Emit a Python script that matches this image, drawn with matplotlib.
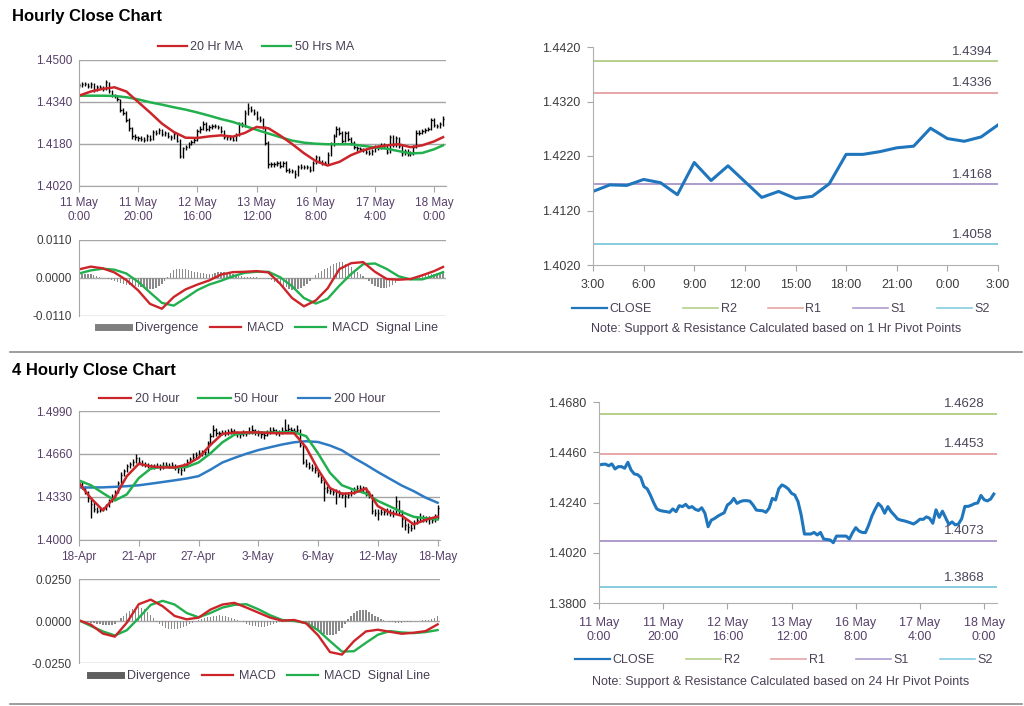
import numpy as np
import matplotlib.pyplot as plt
from matplotlib.lines import Line2D

plt.rcParams['font.family'] = ['Liberation Sans', 'DejaVu Sans']

## hourly bars, 11 May 0:00 .. 18 May 3:00
hour_labels = ['11 May\n0:00', '11 May\n20:00', '12 May\n16:00', '13 May\n12:00',
               '16 May\n8:00', '17 May\n4:00', '18 May\n0:00']
close_1h = [1.4404, 1.4407, 1.4408, 1.4401, 1.4409, 1.4387, 1.4397, 1.4397, 1.4390, 1.4416,
            1.4382, 1.4365, 1.4362, 1.4350, 1.4310, 1.4300, 1.4273, 1.4240, 1.4212, 1.4205,
            1.4202, 1.4200, 1.4197, 1.4212, 1.4200, 1.4226, 1.4222, 1.4232, 1.4217, 1.4222,
            1.4210, 1.4205, 1.4217, 1.4193, 1.4134, 1.4163, 1.4170, 1.4180, 1.4188, 1.4195,
            1.4229, 1.4239, 1.4258, 1.4236, 1.4244, 1.4248, 1.4248, 1.4246, 1.4229, 1.4207,
            1.4205, 1.4204, 1.4197, 1.4215, 1.4258, 1.4251, 1.4300, 1.4317, 1.4310, 1.4299,
            1.4280, 1.4273, 1.4244, 1.4185, 1.4102, 1.4102, 1.4102, 1.4109, 1.4098, 1.4109,
            1.4080, 1.4078, 1.4076, 1.4064, 1.4093, 1.4093, 1.4093, 1.4093, 1.4080, 1.4108,
            1.4130, 1.4115, 1.4109, 1.4108, 1.4140, 1.4180, 1.4210, 1.4236, 1.4222, 1.4193,
            1.4222, 1.4200, 1.4185, 1.4168, 1.4163, 1.4160, 1.4156, 1.4151, 1.4146,
            1.4155, 1.4167, 1.4166, 1.4177, 1.4171, 1.4149, 1.4208, 1.4175, 1.4202, 1.4173,
            1.4144, 1.4155, 1.4142, 1.4146, 1.4169, 1.4223, 1.4223, 1.4228, 1.4235, 1.4238,
            1.4271, 1.4252, 1.4247, 1.4255, 1.4277]
high_1h = [1.4414, 1.4415, 1.4418, 1.4412, 1.4416, 1.4412, 1.4405, 1.4404, 1.4402, 1.4424,
           1.4418, 1.4386, 1.4372, 1.4366, 1.4352, 1.4318, 1.4305, 1.4278, 1.4245, 1.4218,
           1.4212, 1.4210, 1.4206, 1.4218, 1.4216, 1.4232, 1.4232, 1.4240, 1.4236, 1.4230,
           1.4226, 1.4215, 1.4224, 1.4220, 1.4198, 1.4170, 1.4178, 1.4188, 1.4196, 1.4202,
           1.4236, 1.4248, 1.4266, 1.4262, 1.4252, 1.4255, 1.4256, 1.4254, 1.4250, 1.4234,
           1.4214, 1.4212, 1.4210, 1.4222, 1.4265, 1.4264, 1.4310, 1.4338, 1.4324, 1.4315,
           1.4305, 1.4288, 1.4280, 1.4250, 1.4190, 1.4112, 1.4110, 1.4116, 1.4114, 1.4116,
           1.4114, 1.4088, 1.4085, 1.4082, 1.4100, 1.4102, 1.4101, 1.4100, 1.4098, 1.4115,
           1.4138, 1.4136, 1.4120, 1.4116, 1.4148, 1.4188, 1.4220, 1.4250, 1.4244, 1.4228,
           1.4230, 1.4228, 1.4206, 1.4190, 1.4174, 1.4170, 1.4166, 1.4162, 1.4158, 1.4162,
           1.4175, 1.4176, 1.4185, 1.4184, 1.4176, 1.4216, 1.4214, 1.4210, 1.4208, 1.4180,
           1.4162, 1.4160, 1.4154, 1.4176, 1.4232, 1.4232, 1.4236, 1.4242, 1.4246, 1.4280,
           1.4278, 1.4258, 1.4262, 1.4286]
low_1h = [1.4394, 1.4397, 1.4400, 1.4393, 1.4395, 1.4380, 1.4383, 1.4390, 1.4383, 1.4386,
          1.4375, 1.4358, 1.4355, 1.4342, 1.4302, 1.4290, 1.4265, 1.4230, 1.4200, 1.4196,
          1.4190, 1.4192, 1.4188, 1.4192, 1.4193, 1.4196, 1.4214, 1.4218, 1.4210, 1.4212,
          1.4202, 1.4196, 1.4200, 1.4186, 1.4125, 1.4128, 1.4156, 1.4165, 1.4175, 1.4182,
          1.4190, 1.4222, 1.4232, 1.4228, 1.4230, 1.4238, 1.4240, 1.4238, 1.4222, 1.4200,
          1.4197, 1.4196, 1.4190, 1.4192, 1.4210, 1.4244, 1.4246, 1.4292, 1.4302, 1.4290,
          1.4272, 1.4265, 1.4236, 1.4176, 1.4090, 1.4094, 1.4094, 1.4096, 1.4090, 1.4092,
          1.4072, 1.4070, 1.4068, 1.4052, 1.4060, 1.4085, 1.4086, 1.4085, 1.4072, 1.4076,
          1.4102, 1.4108, 1.4100, 1.4100, 1.4104, 1.4135, 1.4174, 1.4205, 1.4214, 1.4185,
          1.4188, 1.4192, 1.4178, 1.4160, 1.4155, 1.4152, 1.4148, 1.4143, 1.4138, 1.4140,
          1.4150, 1.4158, 1.4160, 1.4164, 1.4141, 1.4145, 1.4168, 1.4170, 1.4165, 1.4136,
          1.4138, 1.4134, 1.4136, 1.4140, 1.4164, 1.4214, 1.4218, 1.4222, 1.4228, 1.4232,
          1.4245, 1.4240, 1.4240, 1.4250]
ma_bars_1h = list(range(0, 121, 4)) + [123]
ma20_1h = [1.4364, 1.4380, 1.4390, 1.4396, 1.4380, 1.4340, 1.4300, 1.4258, 1.4226, 1.4204,
           1.4203, 1.4209, 1.4213, 1.4208, 1.4222, 1.4245, 1.4240, 1.4212, 1.4180, 1.4145,
           1.4115, 1.4098, 1.4112, 1.4138, 1.4156, 1.4168, 1.4175, 1.4179, 1.4168, 1.4175,
           1.4190, 1.4206]
ma50_1h = [1.4364, 1.4364, 1.4364, 1.4363, 1.4358, 1.4350, 1.4339, 1.4330, 1.4320, 1.4311,
           1.4300, 1.4288, 1.4275, 1.4264, 1.4249, 1.4234, 1.4220, 1.4206, 1.4193, 1.4185,
           1.4181, 1.4179, 1.4179, 1.4179, 1.4173, 1.4167, 1.4162, 1.4153, 1.4144, 1.4146,
           1.4160, 1.4175]
macd_1h = [0.0025, 0.0033, 0.0028, 0.0016, -0.0006, -0.0036, -0.0075, -0.0089, -0.0055, -0.0033,
           -0.0019, -0.0007, 0.0010, 0.0017, 0.0018, 0.0020, 0.0016, -0.0017, -0.0058, -0.0082,
           -0.0065, -0.0030, 0.0026, 0.0043, 0.0046, 0.0018, -0.0003, -0.0005, -0.0003, 0.0008,
           0.0020, 0.0032]
signal_1h = [0.0013, 0.0022, 0.0027, 0.0024, 0.0013, -0.0011, -0.0042, -0.0072, -0.0080, -0.0058,
             -0.0035, -0.0019, -0.0008, 0.0005, 0.0015, 0.0018, 0.0018, 0.0002, -0.0024, -0.0058,
             -0.0074, -0.0060, -0.0022, 0.0012, 0.0040, 0.0042, 0.0026, 0.0005, -0.0004, -0.0004,
             0.0007, 0.0017]
div_1h = [0.0012, 0.0012, 0.0011, 0.0011, 0.0011, 0.0009, 0.0007, 0.0004, 0.0001, -0.0001,
          -0.0004, -0.0006, -0.0008, -0.0011, -0.0014, -0.0016, -0.0019, -0.0021, -0.0023, -0.0024,
          -0.0025, -0.0027, -0.0030, -0.0032, -0.0033, -0.0031, -0.0028, -0.0023, -0.0017, -0.0008,
          0.0003, 0.0015, 0.0022, 0.0025, 0.0026, 0.0025, 0.0025, 0.0022, 0.0020, 0.0018,
          0.0016, 0.0015, 0.0014, 0.0013, 0.0012, 0.0013, 0.0015, 0.0017, 0.0018, 0.0016,
          0.0014, 0.0013, 0.0012, 0.0010, 0.0007, 0.0005, 0.0003, 0.0002, 0.0002, 0.0002,
          0.0002, 0.0001, 0.0000, -0.0001, -0.0002, -0.0006, -0.0011, -0.0015, -0.0019, -0.0023,
          -0.0027, -0.0031, -0.0034, -0.0035, -0.0033, -0.0029, -0.0024, -0.0017, -0.0009, 0.0000,
          0.0009, 0.0015, 0.0021, 0.0026, 0.0030, 0.0035, 0.0040, 0.0044, 0.0047, 0.0045,
          0.0040, 0.0036, 0.0031, 0.0024, 0.0017, 0.0011, 0.0006, -0.0002, -0.0010, -0.0017,
          -0.0024, -0.0027, -0.0028, -0.0029, -0.0029, -0.0026, -0.0020, -0.0015, -0.0010, -0.0006,
          -0.0003, -0.0001, 0.0001, 0.0004, 0.0007, 0.0010, 0.0012, 0.0013, 0.0013, 0.0013,
          0.0013, 0.0014, 0.0014, 0.0015]

## last 24 hours (17 May 3:00 .. 18 May 3:00) of the same closes
day_labels = ['3:00', '6:00', '9:00', '12:00', '15:00', '18:00', '21:00', '0:00', '3:00']
close_day = close_1h[99:]
pivot_names = ['R2', 'R1', 'S1', 'S2']
pivot_1h = [1.4394, 1.4336, 1.4168, 1.4058]
pivot_24h = [1.4628, 1.4453, 1.4073, 1.3868]

## 4 hourly bars, 18 Apr .. 18 May
h4_labels = ['18-Apr', '21-Apr', '27-Apr', '3-May', '6-May', '12-May', '18-May']
close_4h = [1.4440, 1.4410, 1.4370, 1.4320, 1.4280, 1.4240, 1.4225, 1.4233, 1.4240, 1.4262,
            1.4300, 1.4330, 1.4370, 1.4440, 1.4500, 1.4530, 1.4565, 1.4580, 1.4600, 1.4628,
            1.4600, 1.4585, 1.4578, 1.4570, 1.4565, 1.4564, 1.4570, 1.4557, 1.4570, 1.4577,
            1.4570, 1.4577, 1.4560, 1.4545, 1.4540, 1.4577, 1.4600, 1.4620, 1.4640, 1.4650,
            1.4665, 1.4670, 1.4679, 1.4743, 1.4800, 1.4845, 1.4820, 1.4819, 1.4825, 1.4819,
            1.4828, 1.4837, 1.4830, 1.4819, 1.4810, 1.4825, 1.4819, 1.4830, 1.4845, 1.4830,
            1.4819, 1.4812, 1.4806, 1.4820, 1.4840, 1.4845, 1.4830, 1.4827, 1.4838, 1.4845,
            1.4855, 1.4845, 1.4838, 1.4845, 1.4730, 1.4602, 1.4580, 1.4564, 1.4550, 1.4539,
            1.4500, 1.4462, 1.4398, 1.4385, 1.4373, 1.4370, 1.4368, 1.4355, 1.4347, 1.4340,
            1.4347, 1.4365, 1.4390, 1.4398, 1.4400, 1.4398, 1.4360, 1.4347, 1.4220, 1.4210,
            1.4207, 1.4215, 1.4212, 1.4220, 1.4210, 1.4207, 1.4296, 1.4220, 1.4160, 1.4118,
            1.4100, 1.4092, 1.4131, 1.4150, 1.4169, 1.4165, 1.4164, 1.4160, 1.4156, 1.4170,
            1.4245]
high_4h = [1.4462, 1.4448, 1.4418, 1.4378, 1.4330, 1.4290, 1.4250, 1.4245, 1.4252, 1.4275,
           1.4315, 1.4350, 1.4385, 1.4455, 1.4520, 1.4548, 1.4580, 1.4598, 1.4618, 1.4660,
           1.4640, 1.4612, 1.4598, 1.4590, 1.4585, 1.4582, 1.4590, 1.4580, 1.4595, 1.4600,
           1.4592, 1.4598, 1.4585, 1.4570, 1.4560, 1.4590, 1.4618, 1.4640, 1.4665, 1.4672,
           1.4690, 1.4688, 1.4700, 1.4760, 1.4825, 1.4880, 1.4858, 1.4840, 1.4845, 1.4842,
           1.4850, 1.4858, 1.4852, 1.4840, 1.4832, 1.4845, 1.4840, 1.4870, 1.4880, 1.4855,
           1.4842, 1.4835, 1.4828, 1.4842, 1.4865, 1.4870, 1.4855, 1.4848, 1.4870, 1.4930,
           1.4890, 1.4870, 1.4862, 1.4880, 1.4850, 1.4740, 1.4620, 1.4595, 1.4580, 1.4565,
           1.4545, 1.4510, 1.4470, 1.4415, 1.4400, 1.4392, 1.4390, 1.4385, 1.4372, 1.4365,
           1.4368, 1.4385, 1.4410, 1.4420, 1.4425, 1.4418, 1.4405, 1.4375, 1.4355, 1.4240,
           1.4235, 1.4240, 1.4238, 1.4245, 1.4240, 1.4232, 1.4335, 1.4305, 1.4230, 1.4170,
           1.4130, 1.4120, 1.4150, 1.4175, 1.4210, 1.4190, 1.4188, 1.4185, 1.4180, 1.4200,
           1.4270]
low_4h = [1.4425, 1.4395, 1.4350, 1.4290, 1.4170, 1.4215, 1.4205, 1.4212, 1.4222, 1.4230,
          1.4250, 1.4290, 1.4320, 1.4360, 1.4430, 1.4490, 1.4520, 1.4550, 1.4570, 1.4590,
          1.4585, 1.4570, 1.4560, 1.4555, 1.4548, 1.4545, 1.4550, 1.4540, 1.4548, 1.4558,
          1.4552, 1.4560, 1.4540, 1.4515, 1.4500, 1.4530, 1.4565, 1.4590, 1.4610, 1.4625,
          1.4640, 1.4648, 1.4650, 1.4660, 1.4730, 1.4790, 1.4800, 1.4798, 1.4805, 1.4800,
          1.4808, 1.4815, 1.4810, 1.4790, 1.4780, 1.4800, 1.4795, 1.4810, 1.4815, 1.4808,
          1.4795, 1.4785, 1.4778, 1.4795, 1.4810, 1.4820, 1.4808, 1.4800, 1.4812, 1.4820,
          1.4830, 1.4822, 1.4812, 1.4820, 1.4715, 1.4580, 1.4560, 1.4545, 1.4530, 1.4515,
          1.4480, 1.4440, 1.4300, 1.4360, 1.4350, 1.4345, 1.4280, 1.4330, 1.4320, 1.4250,
          1.4320, 1.4335, 1.4355, 1.4375, 1.4380, 1.4372, 1.4340, 1.4325, 1.4200, 1.4185,
          1.4150, 1.4190, 1.4190, 1.4195, 1.4185, 1.4180, 1.4200, 1.4200, 1.4100, 1.4080,
          1.4055, 1.4070, 1.4085, 1.4120, 1.4140, 1.4140, 1.4135, 1.4120, 1.4130, 1.4140,
          1.4160]
ma_bars_4h = list(range(0, 121, 4))
ma20_4h = [1.4437, 1.4320, 1.4228, 1.4330, 1.4490, 1.4585, 1.4565, 1.4557, 1.4557, 1.4578,
           1.4630, 1.4730, 1.4815, 1.4824, 1.4826, 1.4826, 1.4821, 1.4819, 1.4819, 1.4710,
           1.4540, 1.4398, 1.4355, 1.4360, 1.4396, 1.4260, 1.4210, 1.4186, 1.4120, 1.4155,
           1.4180]
ma50_4h = [1.4457, 1.4420, 1.4360, 1.4303, 1.4350, 1.4475, 1.4548, 1.4563, 1.4555, 1.4560,
           1.4595, 1.4665, 1.4750, 1.4808, 1.4822, 1.4826, 1.4824, 1.4826, 1.4827, 1.4797,
           1.4665, 1.4515, 1.4420, 1.4385, 1.4357, 1.4300, 1.4258, 1.4215, 1.4178, 1.4167,
           1.4157]
ma200_4h = [1.4403, 1.4403, 1.4404, 1.4408, 1.4413, 1.4420, 1.4432, 1.4445, 1.4458, 1.4472,
            1.4490, 1.4540, 1.4595, 1.4630, 1.4662, 1.4690, 1.4712, 1.4733, 1.4750, 1.4758,
            1.4752, 1.4725, 1.4688, 1.4630, 1.4578, 1.4522, 1.4470, 1.4418, 1.4375, 1.4325,
            1.4286]
macd_4h = [0.0004, -0.0022, -0.0075, -0.0093, -0.0010, 0.0100, 0.0127, 0.0088, 0.0030, 0.0010,
           0.0020, 0.0068, 0.0098, 0.0108, 0.0080, 0.0050, 0.0020, 0.0002, 0.0006, -0.0014,
           -0.0085, -0.0185, -0.0200, -0.0120, -0.0062, -0.0052, -0.0064, -0.0076, -0.0070, -0.0060,
           -0.0020]
signal_4h = [0.0004, -0.0030, -0.0062, -0.0086, -0.0055, 0.0018, 0.0096, 0.0120, 0.0098, 0.0048,
             0.0022, 0.0048, 0.0080, 0.0096, 0.0100, 0.0070, 0.0034, 0.0006, 0.0000, -0.0012,
             -0.0055, -0.0120, -0.0182, -0.0180, -0.0130, -0.0082, -0.0060, -0.0068, -0.0072, -0.0066,
             -0.0054]
div_4h = [0.0000, -0.0003, -0.0006, -0.0008, -0.0010, -0.0014, -0.0018, -0.0020, -0.0022, -0.0024,
          -0.0026, -0.0022, -0.0015, -0.0002, 0.0015, 0.0030, 0.0045, 0.0060, 0.0072, 0.0080,
          0.0084, 0.0080, 0.0070, 0.0055, 0.0035, 0.0015, -0.0005, -0.0020, -0.0032, -0.0040,
          -0.0046, -0.0050, -0.0050, -0.0048, -0.0044, -0.0038, -0.0030, -0.0020, -0.0010, -0.0002,
          0.0005, 0.0012, 0.0018, 0.0022, 0.0026, 0.0030, 0.0032, 0.0034, 0.0032, 0.0028,
          0.0024, 0.0018, 0.0012, 0.0006, 0.0000, -0.0008, -0.0015, -0.0022, -0.0028, -0.0032,
          -0.0035, -0.0036, -0.0034, -0.0030, -0.0025, -0.0018, -0.0012, -0.0006, -0.0003, -0.0001,
          0.0002, 0.0004, 0.0005, 0.0003, -0.0003, -0.0008, -0.0014, -0.0022, -0.0032, -0.0045,
          -0.0055, -0.0066, -0.0076, -0.0083, -0.0086, -0.0084, -0.0075, -0.0060, -0.0040, -0.0015,
          0.0010, 0.0030, 0.0048, 0.0060, 0.0066, 0.0068, 0.0064, 0.0055, 0.0044, 0.0032,
          0.0022, 0.0014, 0.0006, 0.0000, -0.0004, -0.0007, -0.0009, -0.0010, -0.0009, -0.0008,
          -0.0006, -0.0004, -0.0002, 0.0000, 0.0002, 0.0003, 0.0004, 0.0006, 0.0010, 0.0018,
          0.0030]

RED = '#cc2529'
GREEN = '#22b04f'
BLUE = '#2e7bc4'
CLOSE_BLUE = '#1f76bd'
PIVOT_COLORS = ['#b5cf8a', '#e6a6a6', '#ad9ccc', '#86cde0']
GRID = '#a6a6a6'
PURPLE_TXT = '#57406a'
DARK_TXT = '#3c3c3c'
LEG_TXT = '#4a4055'
FS = 8.5      # tick labels, left charts
FS_R = 9      # tick labels, right charts
FS_LEG = 9

W, H = 1024, 706
fig = plt.figure(figsize=(W / 100, H / 100), dpi=100)


def box(x0, y0, x1, y1):
    # pixel box (top-left origin) -> figure fraction rect
    return [x0 / W, 1 - y1 / H, (x1 - x0) / W, (y1 - y0) / H]


def base_style(ax, tick_color, size, left_ticks=False):
    for s in ['top', 'right']:
        ax.spines[s].set_visible(False)
    for s in ['left', 'bottom']:
        ax.spines[s].set_color(GRID)
    ax.tick_params(axis='both', colors=GRID, labelsize=size, direction='out', length=4)
    ax.tick_params(axis='y', labelcolor=tick_color, length=4 if left_ticks else 0, pad=5)
    ax.tick_params(axis='x', labelcolor=tick_color)
    ax.set_axisbelow(True)


def price_panel(rect, yticks, xlabels, xmax, n_bars, high, low, close):
    ax = fig.add_axes(rect)
    base_style(ax, PURPLE_TXT, FS)
    x = np.arange(n_bars)
    ax.vlines(x, low, high, color='black', lw=1.0)
    ax.hlines(close, x, x + 0.45, color='black', lw=1.0)
    ax.set_ylim(yticks[0], yticks[-1])
    ax.set_yticks(yticks)
    ax.set_yticklabels([f'{v:.4f}' for v in yticks])
    ax.grid(axis='y', color=GRID, lw=1.0)
    ax.set_xlim(0, xmax)
    ax.set_xticks(range(0, 121, 20))
    ax.set_xticklabels(xlabels, linespacing=1.2)
    ax.tick_params(axis='x', pad=4)
    return ax


def macd_panel(rect, lim, xmax, div, bars, macd, signal):
    ax = fig.add_axes(rect)
    base_style(ax, DARK_TXT, FS)
    ax.spines['bottom'].set_visible(False)
    ax.bar(range(len(div)), div, width=0.45, color='#8a8a8a')
    ax.plot(bars, signal, color=GREEN, lw=1.7)
    ax.plot(bars, macd, color=RED, lw=1.7)
    ax.set_ylim(-lim, lim)
    ax.set_yticks([-lim, 0, lim])
    ax.set_yticklabels([f'{v:.4f}' for v in [-lim, 0, lim]])
    ax.grid(axis='y', color=GRID, lw=1.0)
    ax.set_xlim(0, xmax)
    ax.set_xticks([])
    return ax


def pivot_panel(rect, yticks, xticks, xlabels, xcolor, xmax, x, close, levels, label_dx):
    ax = fig.add_axes(rect)
    base_style(ax, DARK_TXT, FS_R, left_ticks=True)
    ax.tick_params(axis='x', labelcolor=xcolor)
    for s in ['left', 'bottom']:
        ax.spines[s].set_color('#b0b0b0')
    for lvl, col in zip(levels, PIVOT_COLORS):
        ax.axhline(lvl, color=col, lw=1.4)
        ax.annotate(f'{lvl:.4f}', xy=(1, lvl), xycoords=('axes fraction', 'data'),
                    xytext=(label_dx, 2.5), textcoords='offset points', ha='right',
                    va='bottom', fontsize=9.5, color='#4a4458')
    ax.plot(x, close, color=CLOSE_BLUE, lw=2.2, solid_joinstyle='round')
    ax.set_ylim(yticks[0], yticks[-1])
    ax.set_yticks(yticks)
    ax.set_yticklabels([f'{v:.4f}' for v in yticks])
    ax.set_xlim(0, xmax)
    ax.set_xticks(xticks)
    ax.set_xticklabels(xlabels, linespacing=1.2)
    ax.tick_params(axis='x', pad=6)
    return ax


def add_legend(handles, labels, cx, cy, **kw):
    opts = dict(loc='center', bbox_to_anchor=(cx / W, 1 - cy / H), ncol=len(handles),
                frameon=False, fontsize=FS_LEG, handletextpad=0.3, labelcolor=LEG_TXT)
    opts.update(kw)
    fig.legend(handles, labels, **opts)


## ---------------- hourly section ----------------
fig.text(12 / W, 1 - 16 / H, 'Hourly Close Chart', fontsize=12, fontweight='bold', va='center')

ax1 = price_panel(box(79, 60, 446, 186), [1.4020, 1.4180, 1.4340, 1.4500], hour_labels, 124,
                  len(close_1h), high_1h, low_1h, close_1h)
ax1.plot(ma_bars_1h, ma50_1h, color=GREEN, lw=1.8)
ax1.plot(ma_bars_1h, ma20_1h, color=RED, lw=1.8)
add_legend([Line2D([], [], color=RED, lw=1.6), Line2D([], [], color=GREEN, lw=1.6)],
           ['20 Hr MA', '50 Hrs MA'], 256, 47, handlelength=2.3, columnspacing=1.5)

macd_panel(box(79, 240, 446, 316), 0.011, 124, div_1h, ma_bars_1h, macd_1h, signal_1h)
add_legend([Line2D([], [], color='#7f7f7f', lw=5), Line2D([], [], color=RED, lw=1.6),
            Line2D([], [], color=GREEN, lw=1.6)],
           ['Divergence', 'MACD', 'MACD  Signal Line'], 268, 328,
           handlelength=2.5, handletextpad=0.5, columnspacing=0.9)

pivot_panel(box(593, 47, 998, 265), [1.4020, 1.4120, 1.4220, 1.4320, 1.4420],
            range(0, 25, 3), day_labels, DARK_TXT, 24, range(len(close_day)), close_day,
            pivot_1h, -4)
piv_handles = [Line2D([], [], color=CLOSE_BLUE, lw=1.6)] + \
              [Line2D([], [], color=c, lw=1.2) for c in PIVOT_COLORS]
add_legend(piv_handles, ['CLOSE'] + pivot_names, 781, 309,
           handlelength=2.8, handletextpad=0.2, columnspacing=2.5)
fig.text(776 / W, 1 - 329 / H, 'Note: Support & Resistance Calculated based on 1 Hr Pivot Points',
         ha='center', va='center', fontsize=9, color=LEG_TXT)

fig.add_artist(Line2D([10 / W, 1022 / W], [1 - 352 / H, 1 - 352 / H], color='#8c8c8c', lw=1.2))

## ---------------- 4 hourly section ----------------
fig.text(12 / W, 1 - 370 / H, '4 Hourly Close Chart', fontsize=12, fontweight='bold', va='center')

ax4 = price_panel(box(79, 411, 440, 540), [1.4000, 1.4330, 1.4660, 1.4990], h4_labels, 120.8,
                  len(close_4h), high_4h, low_4h, close_4h)
ax4.plot(ma_bars_4h, ma200_4h, color=BLUE, lw=1.8)
ax4.plot(ma_bars_4h, ma50_4h, color=GREEN, lw=1.8)
ax4.plot(ma_bars_4h, ma20_4h, color=RED, lw=1.8)
add_legend([Line2D([], [], color=RED, lw=1.6), Line2D([], [], color=GREEN, lw=1.6),
            Line2D([], [], color=BLUE, lw=1.6)],
           ['20 Hour', '50 Hour', '200 Hour'], 242, 399, handlelength=2.6, columnspacing=1.5)

macd_panel(box(79, 579, 440, 663), 0.025, 120.8, div_4h, ma_bars_4h, macd_4h, signal_4h)
add_legend([Line2D([], [], color='#5f5f5f', lw=5), Line2D([], [], color=RED, lw=1.6),
            Line2D([], [], color=GREEN, lw=1.6)],
           ['Divergence', 'MACD', 'MACD  Signal Line'], 260, 676,
           handlelength=2.5, handletextpad=0.5, columnspacing=0.9)

pivot_panel(box(599, 402, 997, 603), [1.3800, 1.4020, 1.4240, 1.4460, 1.4680],
            range(0, 121, 20), hour_labels, PURPLE_TXT, 124, range(len(close_1h)), close_1h,
            pivot_24h, -9)
add_legend(piv_handles, ['CLOSE'] + pivot_names, 784, 660,
           handlelength=2.8, handletextpad=0.2, columnspacing=2.5)
fig.text(781 / W, 1 - 682 / H, 'Note: Support & Resistance Calculated based on 24 Hr Pivot Points',
         ha='center', va='center', fontsize=9, color=LEG_TXT)

fig.add_artist(Line2D([10 / W, 1022 / W], [1 - 704 / H, 1 - 704 / H], color='#8c8c8c', lw=1.2))

plt.savefig('out.png', dpi=100)
